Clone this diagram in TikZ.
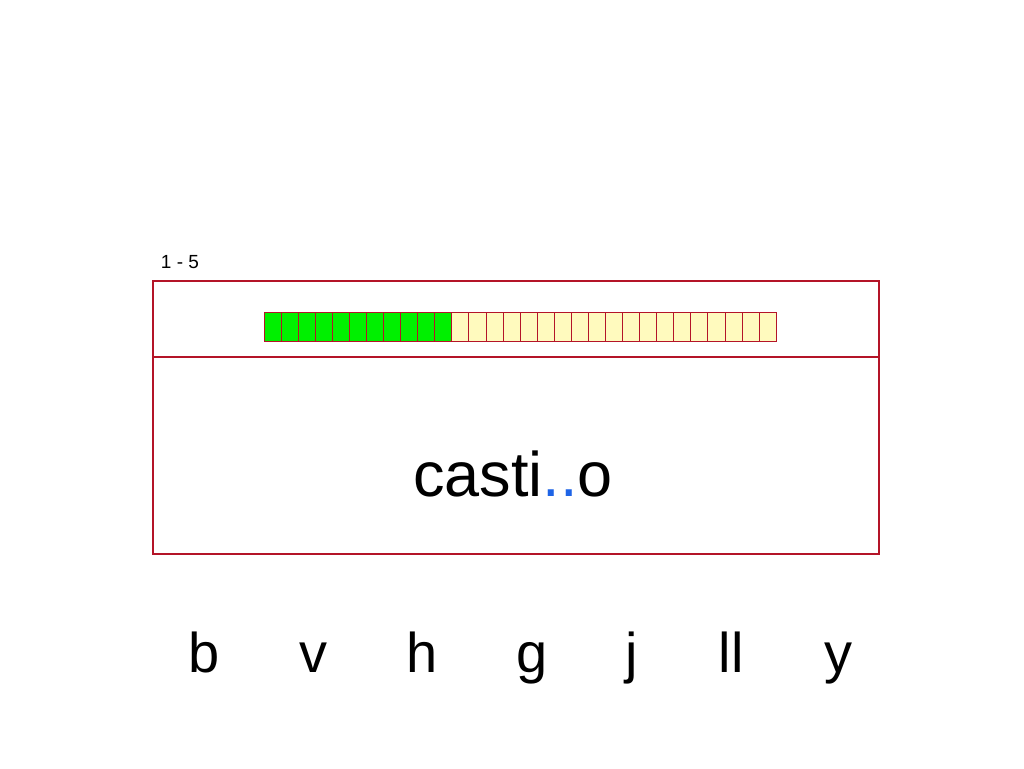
\documentclass[tikz,border=0pt]{standalone}
\usepackage{fontspec}
\setmainfont{Liberation Sans}
\definecolor{frame}{RGB}{180,20,40}
\definecolor{cellg}{RGB}{0,240,0}
\definecolor{celly}{RGB}{255,250,190}
\definecolor{dotblue}{RGB}{30,100,230}
\begin{document}
\begin{tikzpicture}[x=1pt,y=-1pt,
  cell/.style={draw=frame,line width=0.8pt},
  letter/.style={anchor=base,font=\fontsize{56}{56}\selectfont}]
\useasboundingbox (0,0) rectangle (1024,768);
\node[anchor=base,font=\fontsize{19}{19}\selectfont] (lbl) at (180,268) {1 - 5};
\draw[frame,line width=1.2pt] (153,281) rectangle (879,554);
\draw[frame,line width=1.2pt] (153,357) -- (879,357);
\foreach \i in {0,...,29}{
  \pgfmathsetmacro{\xa}{264+\i*17.07}
  \pgfmathsetmacro{\xb}{264+(\i+1)*17.07}
  \ifnum\i<11 \def\fc{cellg}\else\def\fc{celly}\fi
  \draw[cell,fill=\fc] (\xa,312) rectangle (\xb,341);
}
\node[anchor=base,font=\fontsize{63}{63}\selectfont] (word) at (513,496) {casti\textcolor{dotblue}{..}o};
\node[letter] (b) at (204,672) {b};
\node[letter] (v) at (313,672) {v};
\node[letter] (h) at (422,672) {h};
\node[letter] (g) at (532,672) {g};
\node[letter] (j) at (632,672) {j};
\node[letter] (ll) at (731,672) {ll};
\node[letter] (y) at (838,672) {y};
\end{tikzpicture}
\end{document}
